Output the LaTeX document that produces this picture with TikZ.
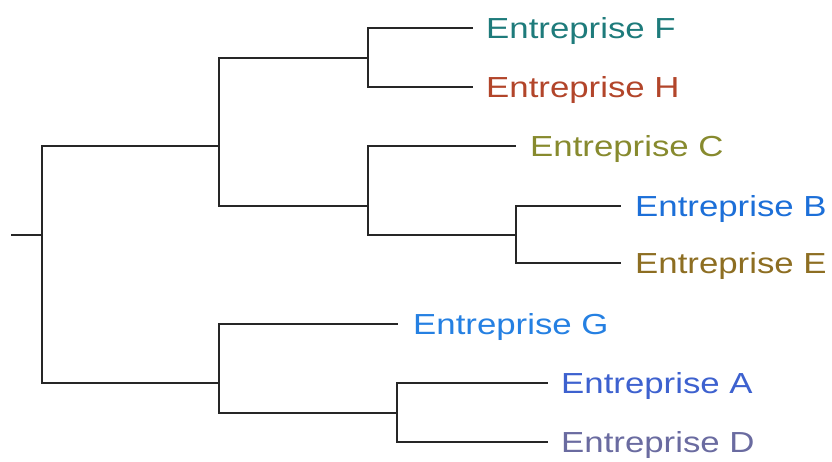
\documentclass[tikz,border=0pt]{standalone}
\usepackage{fontspec}
\setmainfont{Liberation Sans}
\definecolor{cF}{HTML}{1E7B7B}
\definecolor{cH}{HTML}{B2452A}
\definecolor{cC}{HTML}{878A2E}
\definecolor{cB}{HTML}{1C6FD8}
\definecolor{cE}{HTML}{8D6E22}
\definecolor{cG}{HTML}{2580E2}
\definecolor{cA}{HTML}{3D61CF}
\definecolor{cD}{HTML}{6A6BA0}
\tikzset{
  br/.style={line width=2.8pt, black!85, line cap=rect, line join=miter},
  leaf/.style={anchor=base west, inner sep=0pt, font=\fontsize{29}{29}\selectfont},
}
\newcommand{\lbl}[1]{\scalebox{1.2}[1]{#1}}
\begin{document}
\begin{tikzpicture}[x=1pt,y=-1pt]
\useasboundingbox (0,0) rectangle (832,462);
% leaf tips
\coordinate (tF) at (472,28);
\coordinate (tH) at (472,87);
\coordinate (tC) at (515,146);
\coordinate (tB) at (620,206);
\coordinate (tE) at (620,263);
\coordinate (tG) at (397,324);
\coordinate (tA) at (547,383);
\coordinate (tD) at (547,442);
% internal points
\coordinate (s) at (12,235);
\coordinate (r) at (42,235);
\coordinate (r1) at (42,146);
\coordinate (r2) at (42,383);
\coordinate (u) at (219,146);
\coordinate (u1) at (219,58);
\coordinate (u2) at (219,206);
\coordinate (fh) at (368,58);
\coordinate (fhF) at (368,28);
\coordinate (fhH) at (368,87);
\coordinate (cbe) at (368,206);
\coordinate (cbeC) at (368,146);
\coordinate (cbeB) at (368,235);
\coordinate (be) at (516,235);
\coordinate (beB) at (516,206);
\coordinate (beE) at (516,263);
\coordinate (l) at (219,383);
\coordinate (l1) at (219,324);
\coordinate (l2) at (219,413);
\coordinate (ad) at (397,413);
\coordinate (adA) at (397,383);
\coordinate (adD) at (397,442);
% labels
\node[leaf, text=cF] (F) at (486,38.5) {\lbl{Entreprise F}};
\node[leaf, text=cH] (H) at (486,97.5) {\lbl{Entreprise H}};
\node[leaf, text=cC] (C) at (530,156.5) {\lbl{Entreprise C}};
\node[leaf, text=cB] (B) at (635,216.5) {\lbl{Entreprise B}};
\node[leaf, text=cE] (E) at (635,273.5) {\lbl{Entreprise E}};
\node[leaf, text=cG] (G) at (413,334.5) {\lbl{Entreprise G}};
\node[leaf, text=cA] (A) at (561,393.5) {\lbl{Entreprise A}};
\node[leaf, text=cD] (D) at (561,452.5) {\lbl{Entreprise D}};
% branches
\draw[br] (s) -- (r);
\draw[br] (u) -- (r1) -- (r2) -- (l);
\draw[br] (fh) -- (u1) -- (u2) -- (cbe);
\draw[br] (tF) -- (fhF) -- (fhH) -- (tH);
\draw[br] (tC) -- (cbeC) -- (cbeB) -- (be);
\draw[br] (tB) -- (beB) -- (beE) -- (tE);
\draw[br] (tG) -- (l1) -- (l2) -- (ad);
\draw[br] (tA) -- (adA) -- (adD) -- (tD);
\end{tikzpicture}
\end{document}
